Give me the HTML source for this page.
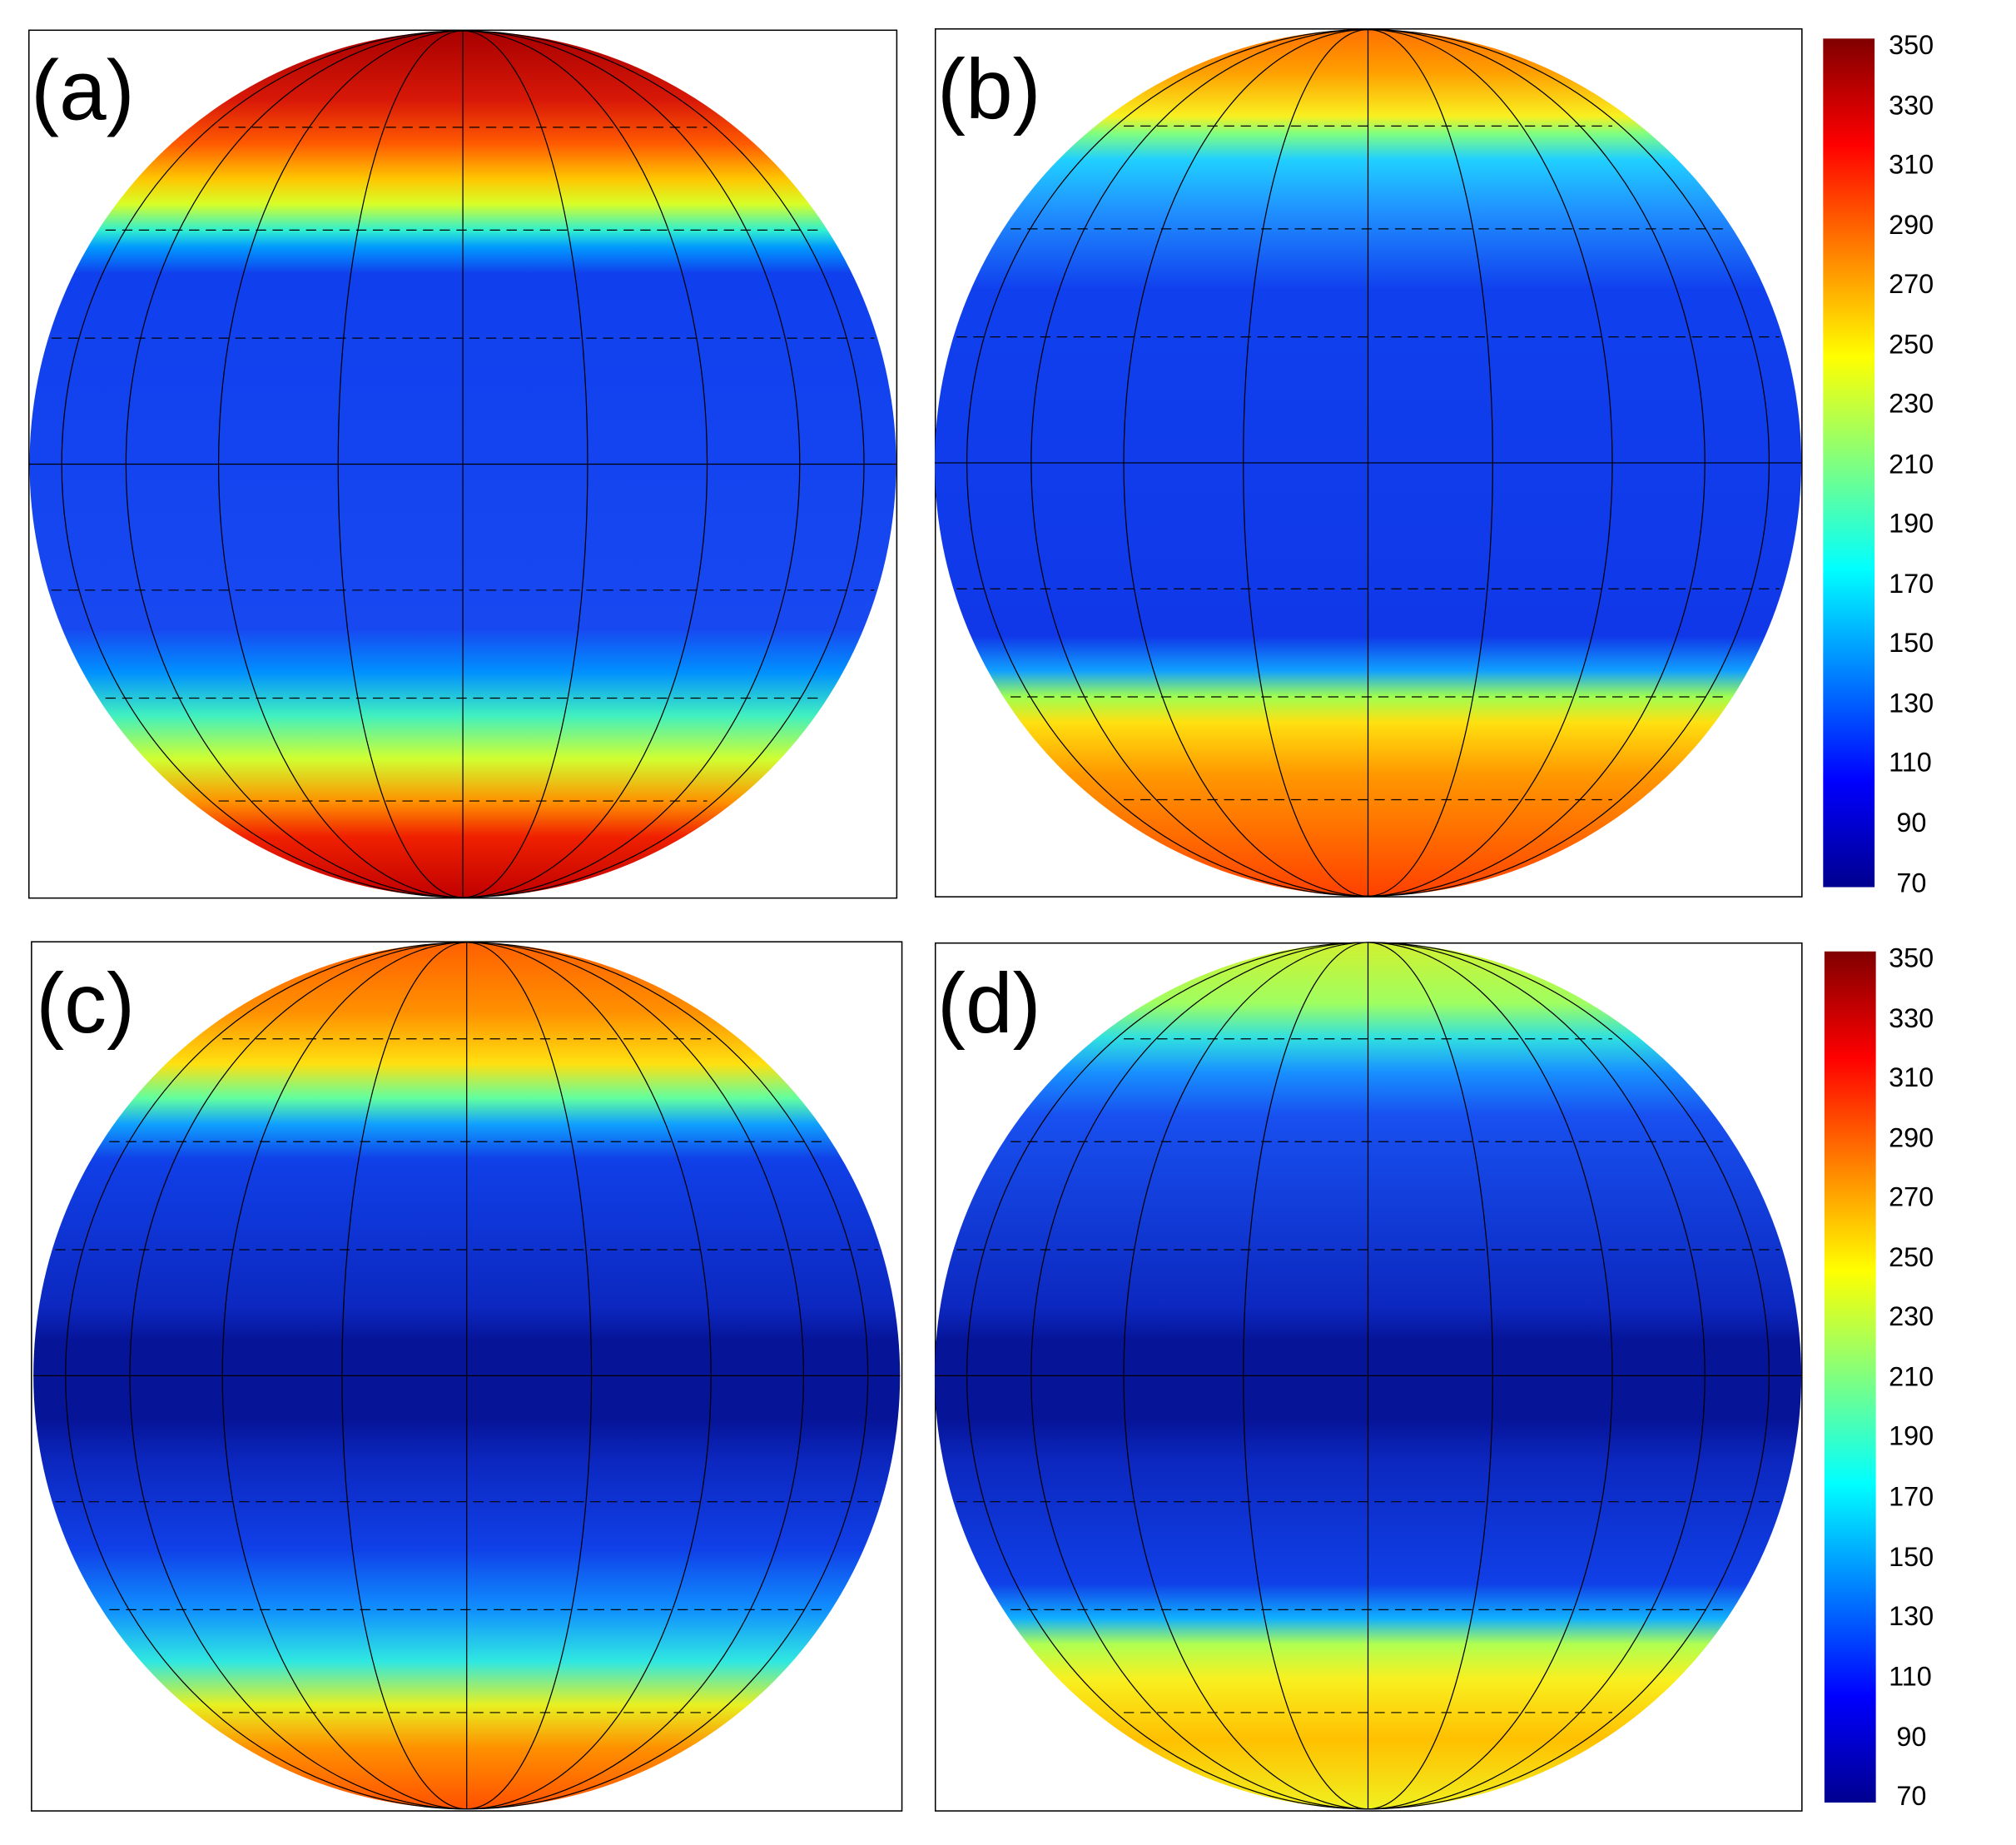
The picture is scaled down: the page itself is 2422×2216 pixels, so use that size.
<!DOCTYPE html>
<html><head><meta charset="utf-8"><style>html,body{margin:0;padding:0;background:#fff}svg{display:block}</style></head>
<body>
<svg width="2422" height="2216" viewBox="0 0 1568 1435" preserveAspectRatio="none" xmlns="http://www.w3.org/2000/svg" font-family="Liberation Sans, sans-serif">
<defs>
<linearGradient id="ga" x1="0" y1="0" x2="0" y2="1">
<stop offset="0" stop-color="#a80000"/><stop offset="0.08" stop-color="#d81808"/><stop offset="0.13" stop-color="#ff5a00"/><stop offset="0.17" stop-color="#ffc400"/><stop offset="0.2" stop-color="#d8ff28"/><stop offset="0.23" stop-color="#30f0d0"/><stop offset="0.25" stop-color="#0098ff"/><stop offset="0.28" stop-color="#1040ee"/><stop offset="0.69" stop-color="#1848f0"/><stop offset="0.74" stop-color="#0090ff"/><stop offset="0.79" stop-color="#40f0c0"/><stop offset="0.84" stop-color="#d0ff30"/><stop offset="0.89" stop-color="#ff9000"/><stop offset="0.93" stop-color="#f02000"/><stop offset="1" stop-color="#c00000"/></linearGradient>
<linearGradient id="gb" x1="0" y1="0" x2="0" y2="1">
<stop offset="0" stop-color="#ff7000"/><stop offset="0.05" stop-color="#ffa000"/><stop offset="0.1" stop-color="#f8f020"/><stop offset="0.12" stop-color="#80ff80"/><stop offset="0.15" stop-color="#20d0ff"/><stop offset="0.21" stop-color="#2090ff"/><stop offset="0.3" stop-color="#1040ee"/><stop offset="0.7" stop-color="#1038e8"/><stop offset="0.74" stop-color="#10a0ff"/><stop offset="0.77" stop-color="#a0ff50"/><stop offset="0.8" stop-color="#ffe010"/><stop offset="0.86" stop-color="#ff9800"/><stop offset="1" stop-color="#ff4000"/></linearGradient>
<linearGradient id="gc" x1="0" y1="0" x2="0" y2="1">
<stop offset="0" stop-color="#ff6000"/><stop offset="0.08" stop-color="#ff9000"/><stop offset="0.14" stop-color="#ffe010"/><stop offset="0.18" stop-color="#60ffa0"/><stop offset="0.21" stop-color="#10a0ff"/><stop offset="0.25" stop-color="#1040e8"/><stop offset="0.42" stop-color="#0c28c0"/><stop offset="0.46" stop-color="#061498"/><stop offset="0.55" stop-color="#061498"/><stop offset="0.6" stop-color="#0c28c0"/><stop offset="0.7" stop-color="#1040e8"/><stop offset="0.77" stop-color="#1090ff"/><stop offset="0.83" stop-color="#30e8e0"/><stop offset="0.88" stop-color="#e8f020"/><stop offset="0.93" stop-color="#ff9000"/><stop offset="1" stop-color="#ff5000"/></linearGradient>
<linearGradient id="gd" x1="0" y1="0" x2="0" y2="1">
<stop offset="0" stop-color="#d0f030"/><stop offset="0.07" stop-color="#a0ff60"/><stop offset="0.11" stop-color="#30e0e0"/><stop offset="0.15" stop-color="#1890ff"/><stop offset="0.2" stop-color="#1850f0"/><stop offset="0.42" stop-color="#0c28c0"/><stop offset="0.46" stop-color="#061498"/><stop offset="0.55" stop-color="#061498"/><stop offset="0.6" stop-color="#0c28c0"/><stop offset="0.74" stop-color="#1040e8"/><stop offset="0.78" stop-color="#10b0ff"/><stop offset="0.81" stop-color="#b0ff50"/><stop offset="0.85" stop-color="#f8f020"/><stop offset="0.92" stop-color="#ffc000"/><stop offset="1" stop-color="#f0f020"/></linearGradient>
<linearGradient id="jet" x1="0" y1="1" x2="0" y2="0">
<stop offset="0" stop-color="#00008f"/><stop offset="0.125" stop-color="#0000ff"/><stop offset="0.375" stop-color="#00ffff"/><stop offset="0.625" stop-color="#ffff00"/><stop offset="0.875" stop-color="#ff0000"/><stop offset="1" stop-color="#800000"/></linearGradient>
<g id="grid" fill="none" stroke="#000" stroke-width="0.8">
<line x1="-337" y1="0" x2="337" y2="0"/>
<g stroke-dasharray="8 5">
<line x1="-320" y1="-98" x2="320" y2="-98"/><line x1="-320" y1="98" x2="320" y2="98"/>
<line x1="-278" y1="-182" x2="278" y2="-182"/><line x1="-278" y1="182" x2="278" y2="182"/>
<line x1="-190" y1="-262" x2="190" y2="-262"/><line x1="-190" y1="262" x2="190" y2="262"/>
</g>
<line x1="0" y1="-337" x2="0" y2="337"/>
<ellipse cx="0" cy="0" rx="97" ry="337"/><ellipse cx="0" cy="0" rx="190" ry="337"/><ellipse cx="0" cy="0" rx="262" ry="337"/><ellipse cx="0" cy="0" rx="312" ry="337"/>
</g>
</defs>
<rect x="0" y="0" width="1568" height="1435" fill="#fff"/>
<rect x="22.5" y="23.5" width="675" height="675" fill="none" stroke="#000"/>
<circle cx="360" cy="361" r="337" fill="url(#ga)"/>
<use href="#grid" x="360" y="361"/>
<rect x="727.5" y="22.5" width="674" height="675" fill="none" stroke="#000"/>
<circle cx="1064" cy="360" r="337" fill="url(#gb)"/>
<use href="#grid" x="1064" y="360"/>
<rect x="24.5" y="732.5" width="677" height="676" fill="none" stroke="#000"/>
<circle cx="363" cy="1070" r="337" fill="url(#gc)"/>
<use href="#grid" x="363" y="1070"/>
<rect x="727.5" y="733.5" width="674" height="675" fill="none" stroke="#000"/>
<circle cx="1064" cy="1070" r="337" fill="url(#gd)"/>
<use href="#grid" x="1064" y="1070"/>
<g font-size="66" fill="#000">
<text x="24" y="93">(a)</text><text x="729" y="92">(b)</text><text x="28" y="803">(c)</text><text x="729" y="803">(d)</text>
</g>
<rect x="1418" y="30" width="40" height="660" fill="url(#jet)"/>
<rect x="1419" y="740" width="40" height="662" fill="url(#jet)"/>
<g font-size="21" fill="#000">
<text x="1469" y="42">350</text><text x="1469" y="89">330</text><text x="1469" y="135">310</text><text x="1469" y="182">290</text><text x="1469" y="228">270</text><text x="1469" y="275">250</text><text x="1469" y="321">230</text><text x="1469" y="368">210</text><text x="1469" y="414">190</text><text x="1469" y="461">170</text><text x="1469" y="507">150</text><text x="1469" y="554">130</text><text x="1469" y="600">110</text><text x="1475" y="647">90</text><text x="1475" y="694">70</text>
<text x="1469" y="752">350</text><text x="1469" y="799">330</text><text x="1469" y="845">310</text><text x="1469" y="892">290</text><text x="1469" y="938">270</text><text x="1469" y="985">250</text><text x="1469" y="1031">230</text><text x="1469" y="1078">210</text><text x="1469" y="1124">190</text><text x="1469" y="1171">170</text><text x="1469" y="1218">150</text><text x="1469" y="1264">130</text><text x="1469" y="1311">110</text><text x="1475" y="1358">90</text><text x="1475" y="1404">70</text>
</g>
</svg>
</body></html>
